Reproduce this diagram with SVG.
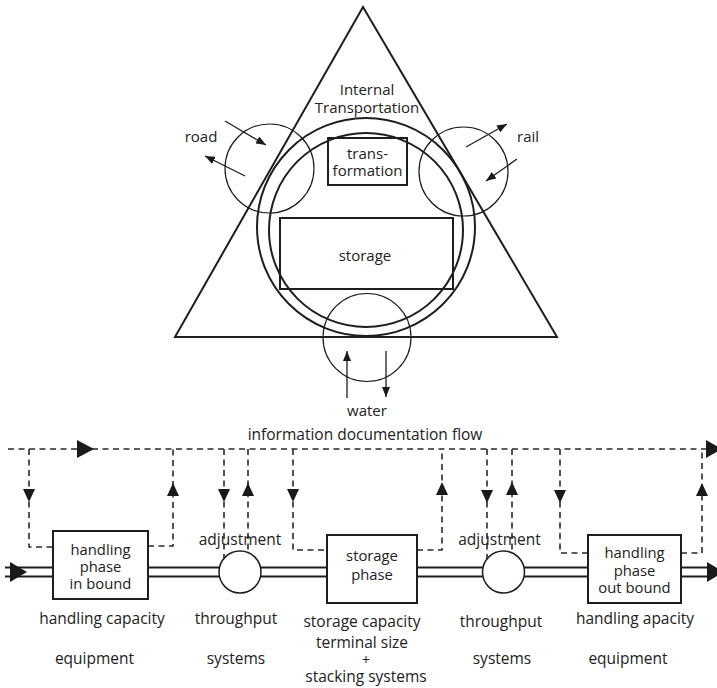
<svg xmlns="http://www.w3.org/2000/svg" width="717" height="688" viewBox="0 0 717 688">
<style>
text{font-family:"Open Sans","Liberation Sans",sans-serif;font-size:15.5px;fill:#222;text-anchor:middle}
.t15{font-size:15px}
.bx{font-size:14.8px}
.thick{fill:none;stroke:#1e1e1e;stroke-width:2}
.thin{fill:none;stroke:#1e1e1e;stroke-width:1.2}
.box{fill:#fff;stroke:#1e1e1e;stroke-width:2}
.dash{fill:none;stroke:#2a2a2a;stroke-width:1.6;stroke-dasharray:6 4.5}
.rail{stroke:#1e1e1e;stroke-width:2}
.ah{fill:#1a1a1a}
.sa{fill:none;stroke:#1e1e1e;stroke-width:1.3;marker-end:url(#sm)}
</style>
<defs>
<marker id="sm" viewBox="0 0 10 8" refX="10" refY="4" markerWidth="10" markerHeight="8" markerUnits="userSpaceOnUse" orient="auto">
<path d="M0,0 L10,4 L0,8 Z" fill="#1a1a1a"/>
</marker>
</defs>
<rect width="717" height="688" fill="#fff"/>

<!-- top diagram -->
<g id="triangle"><polygon class="thick" points="363,7 557,337 175,337"/></g>
<g id="terminal">
<circle class="thick" cx="366" cy="227" r="109"/>
<circle class="thick" cx="366" cy="230" r="97"/>
</g>
<g id="internal-label"><text class="t15" x="367" y="95">Internal</text><text class="t15" x="367" y="113">Transportation</text></g>
<g id="transformation"><rect class="thick" x="328" y="138" width="79" height="47"/><text class="t15" x="367.5" y="159">trans-</text><text class="t15" x="367.5" y="176">formation</text></g>
<g id="storage"><rect class="thick" x="280" y="218" width="173" height="71"/><text class="t15" x="365" y="261">storage</text></g>
<g id="road"><circle class="thin" cx="269.5" cy="168.5" r="44.5"/><text class="t15" x="201" y="142">road</text></g>
<g id="rail"><circle class="thin" cx="463.5" cy="171.5" r="44.5"/><text class="t15" x="517" y="142" style="text-anchor:start">rail</text></g>
<g id="water"><circle class="thin" cx="367" cy="337.5" r="44"/><text class="t15" x="367" y="416">water</text></g>
<g id="mode-arrows">
<line class="sa" x1="225" y1="121" x2="266" y2="145"/>
<line class="sa" x1="245" y1="176" x2="205" y2="156"/>
<line class="sa" x1="466" y1="147" x2="507" y2="124"/>
<line class="sa" x1="517" y1="159" x2="486" y2="181"/>
<line class="sa" x1="347" y1="398" x2="347" y2="351"/>
<line class="sa" x1="386" y1="351" x2="386" y2="397"/>
</g>

<!-- bottom diagram connectors -->
<g id="connectors">
<line class="rail" x1="5" y1="567.5" x2="712" y2="567.5"/>
<line class="rail" x1="5" y1="576.5" x2="712" y2="576.5"/>
<polygon class="ah" points="10,562 27,572 10,582"/>
<polygon class="ah" points="707,562 724,572 707,582"/>
<line class="dash" x1="8" y1="449" x2="708" y2="449"/>
<polygon class="ah" points="77,440 94,449 77,458"/>
<polygon class="ah" points="706,440 722,449 706,458"/>
<polyline class="dash" points="29,449 29,547 53,547"/>
<polyline class="dash" points="148,546 173,546 173,449"/>
<line class="dash" x1="224" y1="449" x2="224" y2="558"/>
<line class="dash" x1="248" y1="449" x2="248" y2="553"/>
<polyline class="dash" points="293,449 293,550 327,550"/>
<polyline class="dash" points="417,550 442,550 442,449"/>
<line class="dash" x1="487" y1="449" x2="487" y2="559"/>
<line class="dash" x1="512" y1="449" x2="512" y2="553"/>
<polyline class="dash" points="560,449 560,553 588,553"/>
<polyline class="dash" points="681,553 702,553 702,449"/>
<polygon class="ah" points="23,489 35,489 29,502"/>
<polygon class="ah" points="218,489 230,489 224,502"/>
<polygon class="ah" points="287,489 299,489 293,502"/>
<polygon class="ah" points="481,490 493,490 487,503"/>
<polygon class="ah" points="554,490 566,490 560,503"/>
<polygon class="ah" points="167,496 179,496 173,483"/>
<polygon class="ah" points="242,496 254,496 248,483"/>
<polygon class="ah" points="436,495 448,495 442,482"/>
<polygon class="ah" points="506,495 518,495 512,482"/>
<polygon class="ah" points="696,496 708,496 702,483"/>
</g>
<text id="info-label" x="365" y="440">information documentation flow</text>

<g id="inbound"><rect class="box" x="53" y="531" width="95" height="68"/><text class="bx" x="100.5" y="555">handling</text><text class="bx" x="100.5" y="572">phase</text><text class="bx" x="100.5" y="589">in bound</text></g>
<g id="adjust1"><circle class="box" cx="240" cy="572" r="21" style="stroke-width:1.5"/><text x="240" y="545">adjustment</text></g>
<g id="storagephase"><rect class="box" x="327" y="535" width="90" height="68"/><text class="bx" x="372" y="561">storage</text><text class="bx" x="372" y="580">phase</text></g>
<g id="adjust2"><circle class="box" cx="503.5" cy="572" r="21" style="stroke-width:1.5"/><text x="499.5" y="545">adjustment</text></g>
<g id="outbound"><rect class="box" x="588" y="535" width="93" height="68"/><text class="bx" x="634.5" y="558">handling</text><text class="bx" x="634.5" y="576">phase</text><text class="bx" x="634.5" y="593">out bound</text></g>

<g id="bottom-labels">
<text x="102" y="624">handling capacity</text>
<text x="94.5" y="664">equipment</text>
<text x="236" y="624">throughput</text>
<text x="236" y="664">systems</text>
<text x="362" y="627">storage capacity</text>
<text x="362" y="648">terminal size</text>
<text x="366" y="665" style="font-size:14px">+</text>
<text x="366" y="682">stacking systems</text>
<text x="501" y="627">throughput</text>
<text x="502" y="664">systems</text>
<text x="635" y="624">handling apacity</text>
<text x="628" y="664">equipment</text>
</g>
</svg>
